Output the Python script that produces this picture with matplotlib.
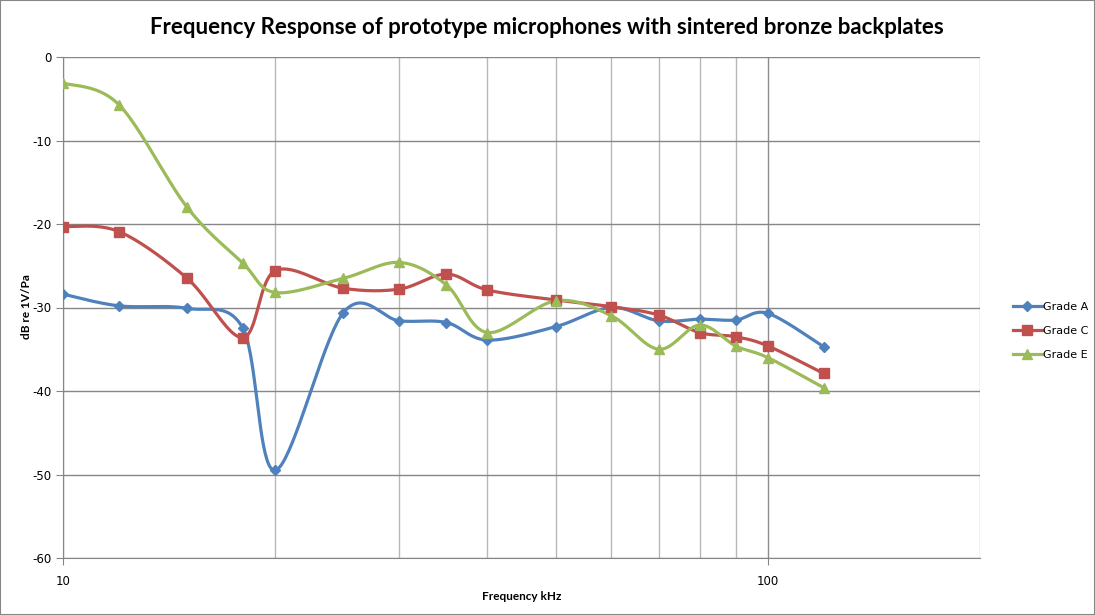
import numpy as np
import matplotlib.pyplot as plt
from matplotlib.lines import Line2D
from matplotlib.patches import Rectangle

plt.rcParams['font.family'] = ['Lato', 'DejaVu Sans']
plt.rcParams['axes.unicode_minus'] = False

freq_khz = [10, 12, 15, 18, 20, 25, 30, 35, 40, 50, 60, 70, 80, 90, 100, 120]
grade_a = [-28.4, -29.8, -30.1, -32.5, -49.5, -30.6, -31.6, -31.8, -33.9, -32.3,
           -30.0, -31.6, -31.4, -31.5, -30.7, -34.7]
grade_c = [-20.3, -20.9, -26.5, -33.6, -25.6, -27.7, -27.8, -26.0, -27.9, -29.1,
           -29.9, -30.9, -33.0, -33.5, -34.6, -37.9]
grade_e = [-3.1, -5.7, -18.0, -24.7, -28.2, -26.5, -24.6, -27.3, -33.0, -29.2,
           -31.0, -35.0, -32.1, -34.6, -36.0, -39.6]
series_names = ['Grade A', 'Grade C', 'Grade E']

colors = ['#4F81BD', '#C0504D', '#9BBB59']
markers = ['D', 's', '^']
msizes = [5, 7, 7.5]


def smooth(xs, ys, n=40):
    # excel-like smoothed line (catmull-rom bezier in log-x space)
    lx = np.log10(np.asarray(xs, float))
    y = np.asarray(ys, float)
    px = np.concatenate([[lx[0]], lx, [lx[-1]]])
    py = np.concatenate([[y[0]], y, [y[-1]]])
    outx, outy = [], []
    t = np.linspace(0, 1, n)
    for i in range(1, len(px) - 2):
        p0 = np.array([px[i], py[i]])
        p3 = np.array([px[i + 1], py[i + 1]])
        c1 = p0 + (np.array([px[i + 1], py[i + 1]]) - np.array([px[i - 1], py[i - 1]])) / 6
        c2 = p3 - (np.array([px[i + 2], py[i + 2]]) - np.array([px[i], py[i]])) / 6
        b = ((1 - t) ** 3)[:, None] * p0 + (3 * (1 - t) ** 2 * t)[:, None] * c1 \
            + (3 * (1 - t) * t ** 2)[:, None] * c2 + (t ** 3)[:, None] * p3
        outx.extend(b[:, 0])
        outy.extend(b[:, 1])
    return 10 ** np.array(outx), np.array(outy)


fig = plt.figure(figsize=(10.95, 6.15), dpi=100)
fig.patches.append(Rectangle((0, 0), 1, 1, transform=fig.transFigure, fill=False,
                             edgecolor='#868686', linewidth=1.5))
ax = fig.add_axes([63 / 1095, 1 - 558 / 615, (980 - 63) / 1095, (558 - 57) / 615])

ax.set_xscale('log')
ax.set_xlim(10, 200)
ax.set_ylim(-60, 0)
ax.set_yticks(np.arange(-60, 1, 10))
ax.set_xticks([10, 100])
ax.set_xticklabels(['10', '100'])
ax.set_xticks([20, 30, 40, 50, 60, 70, 80, 90, 200], minor=True)
ax.xaxis.set_minor_formatter(plt.NullFormatter())

ax.grid(True, axis='y', which='major', color='#868686', linewidth=1.0)
ax.grid(True, axis='x', which='major', color='#8c8c8c', linewidth=1.0)
ax.grid(True, axis='x', which='minor', color='#b8b8b8', linewidth=1.0)
ax.set_axisbelow(True)

for s in ['top', 'right']:
    ax.spines[s].set_visible(False)
for s in ['left', 'bottom']:
    ax.spines[s].set_color('#868686')
ax.tick_params(axis='both', which='both', colors='#868686', labelcolor='black',
               labelsize=8.5, length=5, labelfontfamily='DejaVu Sans')
ax.tick_params(axis='x', which='minor', length=0)
ax.tick_params(axis='x', pad=7)

handles = []
for ys, c, m, ms, name in zip([grade_a, grade_c, grade_e], colors, markers, msizes, series_names):
    sx, sy = smooth(freq_khz, ys)
    ax.plot(sx, sy, color=c, linewidth=2.3, solid_capstyle='round', zorder=3)
    ax.plot(freq_khz, ys, linestyle='none', marker=m, markersize=ms, color=c, zorder=4)
    handles.append(Line2D([], [], color=c, linewidth=2.3, marker=m, markersize=ms, label=name))

fig.legend(handles=handles, loc='center left', bbox_to_anchor=(1003 / 1095, 1 - 331 / 615),
           frameon=False, prop={'family': 'DejaVu Sans', 'size': 8},
           handlelength=2.6, handletextpad=0.1, labelspacing=1.25)

fig.text(0.5 * (150 + 943) / 1095, 1 - 28 / 615,
         'Frequency Response of prototype microphones with sintered bronze backplates',
         ha='center', va='center', fontsize=16, fontweight='bold')
fig.text(522 / 1095, 1 - 597 / 615, 'Frequency kHz', ha='center', va='center',
         fontsize=8.5, fontweight='bold')
fig.text(27 / 1095, 1 - 307 / 615, 'dB re 1V/Pa', ha='center', va='center',
         rotation=90, fontsize=8.5, fontweight='bold')

fig.savefig('out.png', dpi=100)
